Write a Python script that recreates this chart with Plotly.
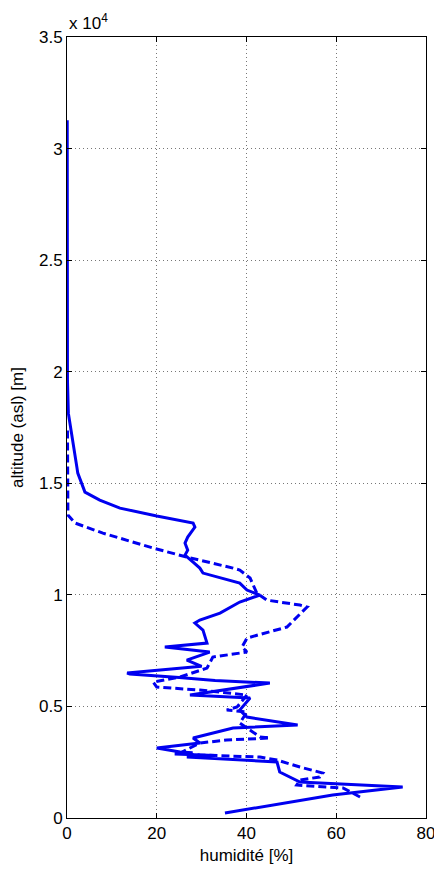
import plotly.graph_objects as go

# Solid profile (humidity %, altitude m), bottom to top
solid_hum = [35.2, 50.3, 59.2, 74.8, 51.9, 47.4, 46.8, 26.7, 33.0, 24.0, 28.0, 25.2, 20.0, 29.6, 28.1,
             37.0, 51.4, 40.1, 38.5, 40.8, 27.4, 45.2, 33.0, 25.0, 18.0, 14.0, 13.4, 22.0, 30.0, 26.7, 31.8,
             21.8, 31.2, 30.3, 28.5, 29.6, 34.1, 38.5, 43.0, 40.1, 38.5, 30.3, 29.6,
             28.1, 26.3, 26.9, 26.3, 26.9, 28.5, 28.1, 20.0, 11.8, 7.3, 4.0, 3.3,
             2.4, 2.2, 1.3, 0.3, 0.1, 0.1, 0.05]
solid_alt = [224, 717, 1030, 1389, 1613, 2061, 2509, 2733, 2800, 2870, 2920, 2957, 3136, 3360, 3584,
             4032, 4166, 4525, 4838, 5376, 5510, 6048, 6160, 6300, 6400, 6450, 6496, 6650, 6800, 7078, 7437,
             7661, 7840, 8422, 8736, 8870, 9184, 9677, 9990, 10214, 10528, 10976, 11200,
             11469, 11782, 12006, 12320, 12589, 13037, 13216, 13530, 13888, 14246, 14605, 15008,
             15456, 15725, 16934, 18144, 19622, 25900, 31270]

# Dashed profile (humidity %, altitude m), bottom to top
dashed_hum = [65.3, 61.5, 51.2, 51.9, 56.3, 57.0, 51.9, 46.8, 43.0, 29.6, 25.2, 29.6,
              35.6, 45.2, 43.0, 40.8, 38.5, 40.1, 35.6, 37.9, 40.1, 29.6, 20.0, 19.2,
              25.2, 31.2, 32.5, 40.1, 39.0, 40.1, 49.0, 53.5, 51.9, 44.5, 42.3, 41.2,
              40.8, 38.5, 37.0, 26.7, 19.2, 8.0, 1.8, 0.2, 0.1, 0.1]
dashed_alt = [941, 1344, 1478, 1702, 1837, 2016, 2285, 2598, 2733, 2822, 2912, 3360,
              3494, 3584, 3629, 3942, 4256, 4749, 4838, 4973, 5510, 5734, 5869, 6093,
              6317, 6720, 7213, 7437, 7661, 8064, 8557, 9453, 9542, 9766, 10080, 10573,
              10752, 11110, 11200, 11693, 12096, 12768, 13216, 13574, 15590, 17517]

x_ticks = [0, 20, 40, 60, 80]
y_ticks = [0, 5000, 10000, 15000, 20000, 25000, 30000, 35000]
y_tick_text = ["0", "0.5", "1", "1.5", "2", "2.5", "3", "3.5"]

blue = "#0000f0"
font = dict(family="Arial, Liberation Sans, sans-serif", size=17, color="black")

fig = go.Figure()
fig.add_trace(go.Scatter(x=dashed_hum, y=dashed_alt, mode="lines",
                         line=dict(color=blue, width=3, dash="8px,4px"), showlegend=False))
fig.add_trace(go.Scatter(x=solid_hum, y=solid_alt, mode="lines",
                         line=dict(color=blue, width=3), showlegend=False))

axis_common = dict(showline=True, linecolor="black", linewidth=1, mirror="ticks",
                   ticks="inside", ticklen=5, tickcolor="black",
                   showgrid=True, gridcolor="#777777", griddash="1px,3px", gridwidth=1,
                   zeroline=False, tickfont=font, automargin=False)

fig.update_xaxes(range=[0, 80], tickvals=x_ticks,
                 title=dict(text="humidité [%]", font=font, standoff=6), **axis_common)
fig.update_yaxes(range=[0, 35000], tickvals=y_ticks, ticktext=y_tick_text,
                 title=dict(text="altitude (asl) [m]", font=font, standoff=12), **axis_common)

fig.add_annotation(text="x 10<sup>4</sup>", xref="paper", yref="paper", x=0, y=1,
                   xanchor="left", yanchor="bottom", showarrow=False, font=font, yshift=2)

fig.update_layout(width=434, height=864, margin=dict(l=59, r=16, t=29, b=54),
                  paper_bgcolor="white", plot_bgcolor="white", font=font)

fig.write_html("out.html")
